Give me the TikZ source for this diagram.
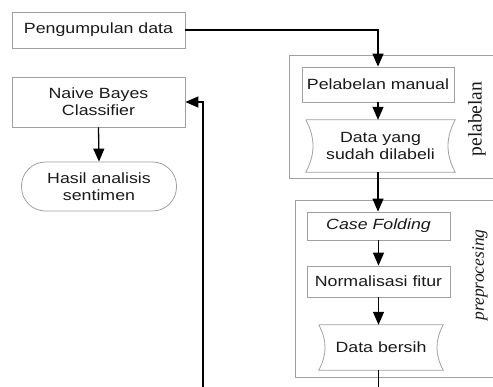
\documentclass[tikz,border=0pt]{standalone}
\usepackage{fontspec}
\setmainfont{Liberation Serif}
\newfontfamily\boxfont[FakeStretch=1.2]{Liberation Sans}
\usetikzlibrary{arrows.meta,calc}
\definecolor{boxgray}{HTML}{A0A0A0}
\definecolor{txt}{HTML}{1A1A1A}
\tikzset{
  procbox/.style={draw=boxgray, line width=0.8pt, inner sep=0pt, align=center,
    font=\boxfont\fontsize{14.8}{17}\selectfont, text=txt},
  termbox/.style={procbox, rounded corners=24pt},
  storebox/.style={inner sep=0pt, align=center,
    font=\boxfont\fontsize{14.8}{17}\selectfont, text=txt},
  groupbox/.style={draw=boxgray, line width=0.8pt},
  conn/.style={line width=1.3pt, draw=black},
  arr/.style={conn, -{Triangle[length=13pt,width=11pt]}},
  sidelabel/.style={rotate=90, text=txt}
}
\begin{document}
\begin{tikzpicture}[x=1pt,y=-1pt]
\useasboundingbox (0,0) rectangle (493,386);
% group boxes
\draw[groupbox] (520,55) -- (289,55) -- (289,178) -- (520,178);
\draw[groupbox] (520,200) -- (295,200) -- (295,377) -- (520,377);
\node[sidelabel, font=\fontsize{19.5}{21}\selectfont] (lpel) at (477,119) {pelabelan};
\node[sidelabel, font=\itshape\fontsize{17.5}{18}\selectfont] (lpre) at (480,275) {preprocesing};
% left column
\node[procbox, minimum width=173pt, minimum height=36pt] (peng) at (98.5,30) {Pengumpulan data};
\node[procbox, minimum width=173pt, minimum height=50pt] (nbc) at (98.5,102) {Naive Bayes\\Classifier};
\node[termbox, minimum width=155pt, minimum height=49pt] (hasil) at (99,186.5) {Hasil analisis\\sentimen};
% right column
\node[procbox, minimum width=152pt, minimum height=35pt] (pm) at (378,84.5) {Pelabelan manual};
\node[storebox, minimum width=149pt, minimum height=52pt] (dl) at (380.5,146) {Data yang\\sudah dilabeli};
\draw[draw=boxgray, line width=0.8pt]
  (dl.north west) -- (dl.north east) to[bend right=28] (dl.south east)
  -- (dl.south west) to[bend left=-28] (dl.north west);
\node[procbox, minimum width=143pt, minimum height=28pt, font=\boxfont\itshape\fontsize{14.8}{17}\selectfont] (cf) at (378.5,226) {Case Folding};
\node[procbox, minimum width=143pt, minimum height=31pt] (nf) at (378.5,281.5) {Normalisasi fitur};
\node[storebox, minimum width=124pt, minimum height=45pt] (db) at (381,347.5) {Data bersih};
\draw[draw=boxgray, line width=0.8pt]
  (db.north west) -- (db.north east) to[bend right=28] (db.south east)
  -- (db.south west) to[bend left=-28] (db.north west);
% connectors
\coordinate (endA) at (378.5,395);
\coordinate (endB) at (203,395);
\draw[arr] (peng.east) -| (pm.north);
\draw[arr] (pm.south) -- (pm.south |- dl.north);
\draw[arr] (pm.south |- dl.south) -- (pm.south |- cf.north);
\draw[arr] (cf.south) -- (nf.north);
\draw[arr] (nf.south) -- (nf.south |- db.north);
\draw[conn] (nf.south |- db.south) -- (endA);
\draw[arr] (endB) |- (nbc.east);
\draw[arr] (nbc.south) -- (hasil.north);
\end{tikzpicture}
\end{document}
